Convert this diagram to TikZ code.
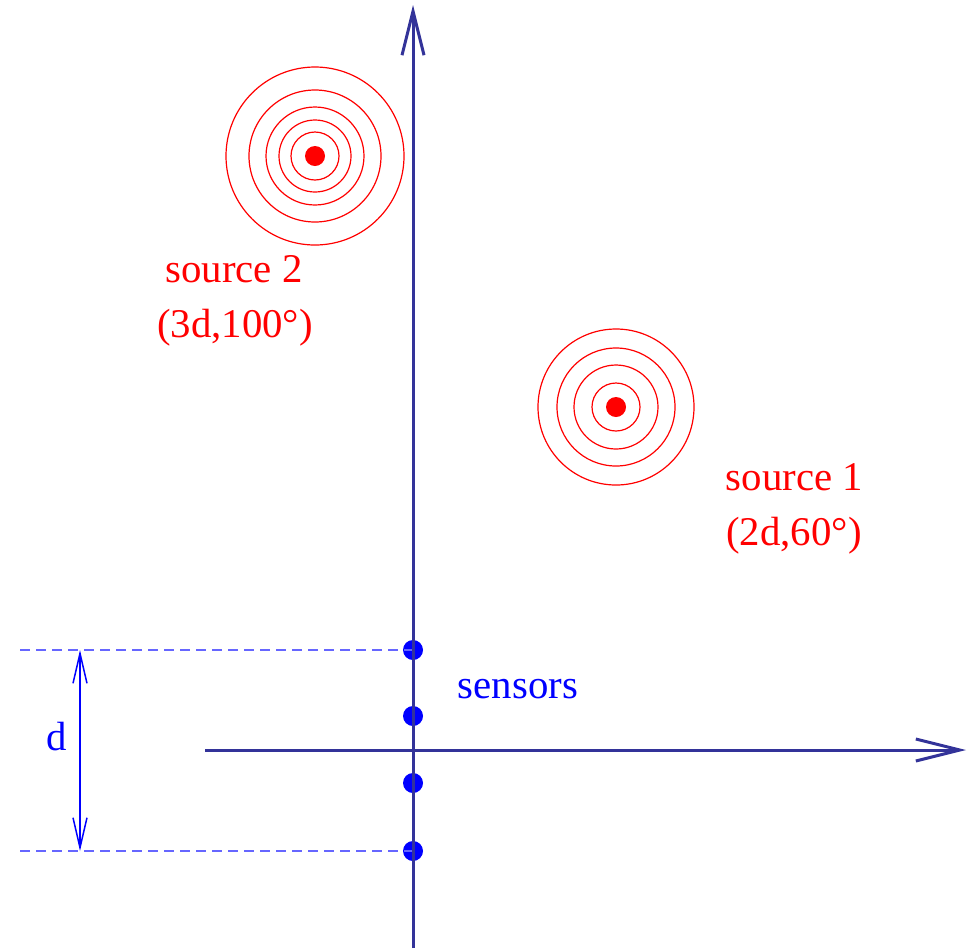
\documentclass[tikz,border=0pt]{standalone}
\usepackage{fontspec}
\setmainfont{Liberation Serif}
\usetikzlibrary{arrows.meta}
\definecolor{axisblue}{HTML}{333399}
\definecolor{srcred}{HTML}{FF0000}
\definecolor{sensblue}{HTML}{0000FF}

\begin{document}
\begin{tikzpicture}[
        x=0.5pt, y=-0.5pt,
        axis/.style={draw=axisblue, line width=1.5pt,
                     -{Straight Barb[length=22pt, width=11pt]}},
        sensor/.style={circle, fill=sensblue, inner sep=0pt, minimum size=10pt},
        src/.style={circle, fill=srcred, inner sep=0pt, minimum size=10pt},
        wave/.style={draw=srcred, line width=0.6pt},
        guide/.style={draw=sensblue!60, line width=0.65pt, dash pattern=on 5pt off 3pt},
        dim/.style={draw=sensblue, line width=0.75pt,
                    {Straight Barb[length=15pt, width=7pt]}-{Straight Barb[length=15pt, width=7pt]}},
        lbl/.style={font=\fontsize{20.4}{24}\selectfont, anchor=base, inner sep=0pt}
      ]
        \useasboundingbox (0,0) rectangle (973,949);

        % sources with wave fronts
        \node[src] (src2) at (315,156) {};
        \node[src] (src1) at (616,407) {};
        \foreach \r in {12,18,24.5,33,44.5}
          \draw[wave] (src2) circle[radius=\r pt];
        \foreach \r in {12,21,29.5,39}
          \draw[wave] (src1) circle[radius=\r pt];

        \node[lbl, text=srcred] (src2name) at (234,282) {source 2};
        \node[lbl, text=srcred] (src2pos) at (235,337) {(3d,100°)};
        \node[lbl, text=srcred] (src1name) at (794.5,490) {source 1};
        \node[lbl, text=srcred] (src1pos) at (794,545) {(2d,60°)};

        % sensor array
        \foreach \i/\y in {1/650, 2/716, 3/783, 4/851}
          \node[sensor] (s\i) at (413,\y) {};
        \node[lbl, text=sensblue] (senslabel) at (518,698) {sensors};

        % spacing d
        \coordinate (gtop) at (20,650);
        \coordinate (gbot) at (20,851);
        \coordinate (dtop) at (80,650);
        \coordinate (dbot) at (80,851);
        \draw[guide] (gtop) -- (s1.center);
        \draw[guide] (gbot) -- (s4.center);
        \draw[dim] (dtop) -- (dbot);
        \node[lbl, text=sensblue] (dlabel) at (57,750) {d};

        % axes (on top of the sensors)
        \coordinate (ybot) at (413,948);
        \coordinate (ytop) at (413,5);
        \coordinate (xleft) at (205,750);
        \coordinate (xright) at (966,750);
        \draw[axis] (xleft) -- (xright);
        \draw[axis] (ybot) -- (ytop);
      \end{tikzpicture}
\end{document}
